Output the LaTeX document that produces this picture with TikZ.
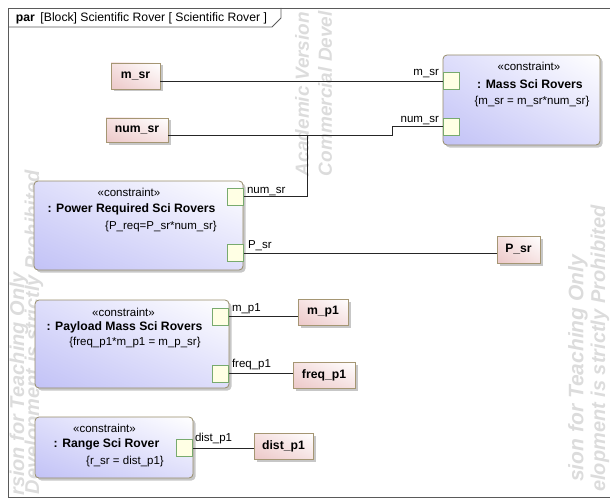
\documentclass[tikz,border=0pt]{standalone}
\usepackage{fontspec}
\setmainfont{Liberation Sans}
\usetikzlibrary{shadows,shadings}
\definecolor{clav}{RGB}{194,194,246}
\definecolor{clavmid}{RGB}{222,222,251}
\definecolor{cborder}{RGB}{150,140,105}
\definecolor{ppink}{RGB}{236,200,200}
\definecolor{ppinkmid}{RGB}{246,226,226}
\definecolor{pborder}{RGB}{165,150,115}
\definecolor{portfill}{RGB}{255,255,228}
\definecolor{portdraw}{RGB}{120,170,110}
\definecolor{wmgray}{RGB}{220,220,220}
\definecolor{framegray}{RGB}{90,90,90}
\newcommand\fReg{\fontsize{11.5}{13}\selectfont}
\newcommand\fBld{\fontsize{12.2}{14}\selectfont\bfseries}
\newcommand\fWm{\fontsize{20}{22}\selectfont\bfseries\itshape}
\newcommand\fWmS{\fontsize{19}{21}\selectfont\bfseries\itshape}
\newcommand\fWmL{\fontsize{21}{23}\selectfont\bfseries\itshape}
\begin{document}
\begin{tikzpicture}[x=1pt,y=-1pt,
  every node/.style={inner sep=0pt, outer sep=0pt},
  cbox/.style={draw=cborder, line width=0.8pt, rounded corners=4pt,
    lower left=clav, upper right=white, upper left=clavmid, lower right=clavmid,
    drop shadow={fill=black!40, opacity=0.55, shadow xshift=2.5pt, shadow yshift=-2.5pt}},
  pbox/.style={draw=pborder, line width=0.8pt,
    lower left=ppink, upper right=white, upper left=ppinkmid, lower right=ppinkmid,
    drop shadow={fill=black!40, opacity=0.55, shadow xshift=2.5pt, shadow yshift=-2.5pt},
    font=\fBld},
  portbox/.style={draw=portdraw, fill=portfill, line width=0.8pt, minimum width=16pt, minimum height=17pt},
  wire/.style={draw=black!85, line width=0.8pt},
  lbl/.style={font=\fReg},
  stereo/.style={font=\fReg},
  cname/.style={font=\fBld},
  wm/.style={text=wmgray, font=\fWm, rotate=90},
  frameline/.style={draw=framegray, line width=0.8pt}]
\useasboundingbox (0,0) rectangle (610,500);

% watermarks (visible parts)
\node[wm, font=\fWmS, anchor=west] (wmTa) at (302,176) {Academic Version};
\node[wm, font=\fWmS, anchor=west] (wmTb) at (325,176) {Commercial Devel};
\node[wm, anchor=east] (wmLa) at (19,272) {rsion for Teaching Only};
\node[wm, anchor=west] (wmLb) at (34,494) {Development is strictly Prohibited};
\node[wm, font=\fWmL, anchor=east] (wmRa) at (578,255) {sion for Teaching Only};
\node[wm, anchor=east] (wmRb) at (600,205) {elopment is strictly Prohibited};

% frame
\draw[frameline] (610,8) -- (8,8) -- (8,497) -- (610,497);
\draw[frameline] (8,27) -- (272,27) -- (281,18) -- (281,8);
\node[anchor=west, font=\fontsize{12.2}{14}\selectfont] (title) at (16,18) {\textbf{par}\hspace{5.5pt}[Block] Scientific Rover [ Scientific Rover ]};

% constraint blocks
\node[cbox, minimum width=157pt, minimum height=90pt] (massC) at (521.5,100) {};
\node[stereo] (massS) at (529,66) {«constraint»};
\node[cname] (massN) at (530,84) {: Mass Sci Rovers};
\node[stereo] (massE) at (532,102) {\{m\_sr = m\_sr*num\_sr\}};
\node[portbox] (pMass1) at (451,81) {};
\node[portbox] (pMass2) at (451,126.5) {};

\node[cbox, minimum width=209pt, minimum height=89pt] (powC) at (138.5,225.5) {};
\node[stereo] (powS) at (129,192) {«constraint»};
\node[cname] (powN) at (131.5,209) {: Power Required Sci Rovers};
\node[stereo] (powE) at (161,227) {\{P\_req=P\_sr*num\_sr\}};
\node[portbox] (pPow1) at (235.5,196.5) {};
\node[portbox] (pPow2) at (235.5,253) {};

\node[cbox, minimum width=194pt, minimum height=88pt] (payC) at (132,344) {};
\node[stereo] (payS) at (123.5,312) {«constraint»};
\node[cname] (payN) at (124.5,327) {: Payload Mass Sci Rovers};
\node[stereo] (payE) at (135,343) {\{freq\_p1*m\_p1 = m\_p\_sr\}};
\node[portbox] (pPay1) at (220.5,316.5) {};
\node[portbox] (pPay2) at (220.5,373.5) {};

\node[cbox, minimum width=158pt, minimum height=61pt] (rngC) at (114,447.5) {};
\node[stereo] (rngS) at (104.5,428) {«constraint»};
\node[cname] (rngN) at (106.5,444) {: Range Sci Rover};
\node[stereo] (rngE) at (125,462) {\{r\_sr = dist\_p1\}};
\node[portbox] (pRng) at (184.5,448) {};

% value parts
\node[pbox, minimum width=49pt, minimum height=26pt] (msr) at (135.5,76) {m\_sr};
\node[pbox, minimum width=62pt, minimum height=24pt] (numsr) at (137,130) {num\_sr};
\node[pbox, minimum width=43pt, minimum height=27pt] (psr) at (518.5,249.5) {P\_sr};
\node[pbox, minimum width=50pt, minimum height=26pt] (mp1) at (323,312) {m\_p1};
\node[pbox, minimum width=62pt, minimum height=26pt] (freqp1) at (324,375) {freq\_p1};
\node[pbox, minimum width=59pt, minimum height=26pt] (distp1) at (283.5,446) {dist\_p1};

% connectors
\coordinate (jn) at (307,135);
\coordinate (bn) at (392,135);
\draw[wire] (msr.east |- pMass1.west) -- (pMass1.west);
\draw[wire] (numsr.east |- jn) -- (bn) |- (pMass2.west);
\draw[wire] (jn) |- (pPow1.east);
\draw[wire] (pPow2.east) -- (psr.west |- pPow2.east);
\draw[wire] (pPay1.east) -- (mp1.west |- pPay1.east);
\draw[wire] (pPay2.east) -- (freqp1.west |- pPay2.east);
\draw[wire] (pRng.east) -- (distp1.west |- pRng.east);

% connector end labels
\node[lbl, anchor=base east] (lMass1) at (439,76) {m\_sr};
\node[lbl, anchor=base east] (lMass2) at (439,122) {num\_sr};
\node[lbl, anchor=base west] (lPow1) at (247,193) {num\_sr};
\node[lbl, anchor=base west] (lPow2) at (248,248) {P\_sr};
\node[lbl, anchor=base west] (lPay1) at (232,311) {m\_p1};
\node[lbl, anchor=base west] (lPay2) at (232,367) {freq\_p1};
\node[lbl, anchor=base west] (lRng) at (195,441) {dist\_p1};
\end{tikzpicture}
\end{document}
